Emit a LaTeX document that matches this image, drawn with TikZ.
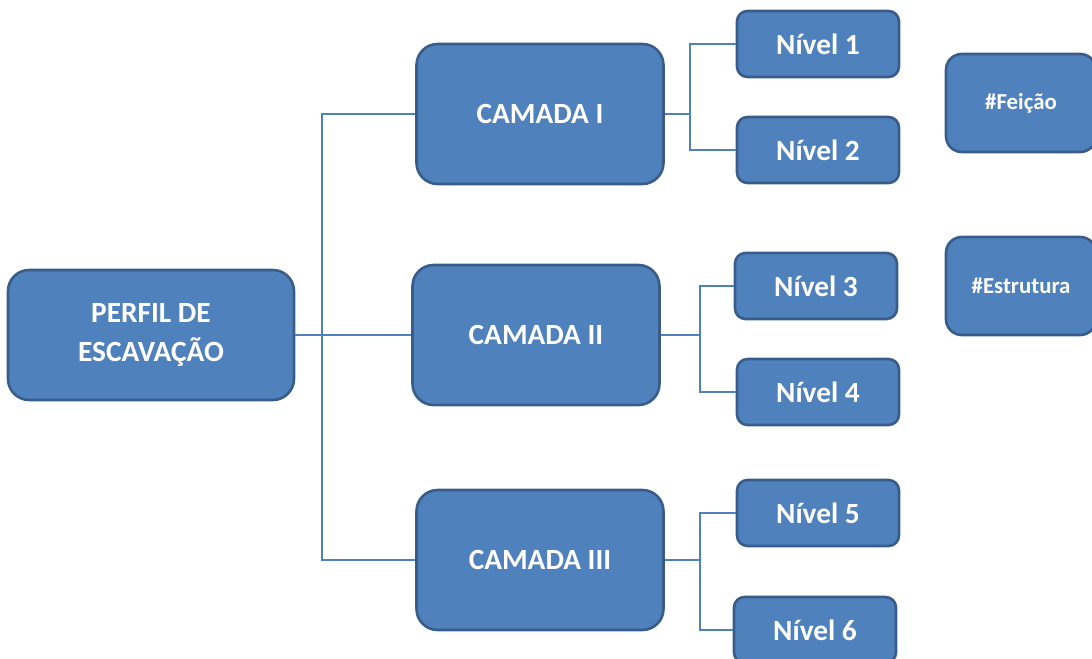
\documentclass[tikz,border=0pt]{standalone}
\usepackage{fontspec}
\setmainfont{Carlito}
\usepackage{tikz}
\usetikzlibrary{positioning}
\definecolor{boxfill}{RGB}{79,129,189}
\definecolor{boxedge}{RGB}{56,93,138}
\definecolor{linkcolor}{RGB}{79,129,189}
\tikzset{
  box/.style={draw=boxedge, fill=boxfill, line width=1.5pt, text=white,
    font=\bfseries\fontsize{16.7}{22.7}\selectfont, align=center, inner sep=0pt},
  mainbox/.style={box, rounded corners=12pt, minimum width=5.72cm, minimum height=2.6cm},
  camada/.style={box, rounded corners=12pt, minimum width=4.94cm, minimum height=2.8cm},
  nivel/.style={box, rounded corners=6pt, minimum width=3.24cm, minimum height=1.32cm},
  tagbox/.style={box, rounded corners=9pt, minimum width=3.0cm, minimum height=1.96cm,
    font=\bfseries\fontsize{13}{15}\selectfont},
  link/.style={draw=linkcolor, line width=1pt},
}
\begin{document}
\begin{tikzpicture}[x=0.02cm, y=-0.02cm]
      \useasboundingbox (0,0) rectangle (1092,659);
      % root and layers
      \node[mainbox] (perfil) at (151,335) {PERFIL DE\\ESCAVAÇÃO};
      \node[camada] (c1) at (540,114) {CAMADA I};
      \node[camada] (c2) at (536,335) {CAMADA II};
      \node[camada] (c3) at (540,560) {CAMADA III};
      % levels
      \node[nivel] (n1) at (818,44) {Nível 1};
      \node[nivel] (n2) at (818,150) {Nível 2};
      \node[nivel] (n3) at (816,286) {Nível 3};
      \node[nivel] (n4) at (818,392) {Nível 4};
      \node[nivel] (n5) at (818,513) {Nível 5};
      \node[nivel] (n6) at (815,630) {Nível 6};
      % tags
      \node[tagbox] (feicao) at (1021,103) {\#Feição};
      \node[tagbox] (estrutura) at (1021,286) {\#Estrutura};
      % connectors
      \coordinate (trunk) at (322,335);
      \draw[link] (perfil.east) -- (c2.west);
      \draw[link] (c1.west) -| (trunk) |- (c3.west);
      \coordinate (j1) at (690,114);
      \coordinate (j2) at (700,335);
      \coordinate (j3) at (700,560);
      \draw[link] (c1.east) -- (j1);
      \draw[link] (n1.west) -| (j1) |- (n2.west);
      \draw[link] (c2.east) -- (j2);
      \draw[link] (n3.west) -| (j2) |- (n4.west);
      \draw[link] (c3.east) -- (j3);
      \draw[link] (n5.west) -| (j3) |- (n6.west);
\end{tikzpicture}
\end{document}
